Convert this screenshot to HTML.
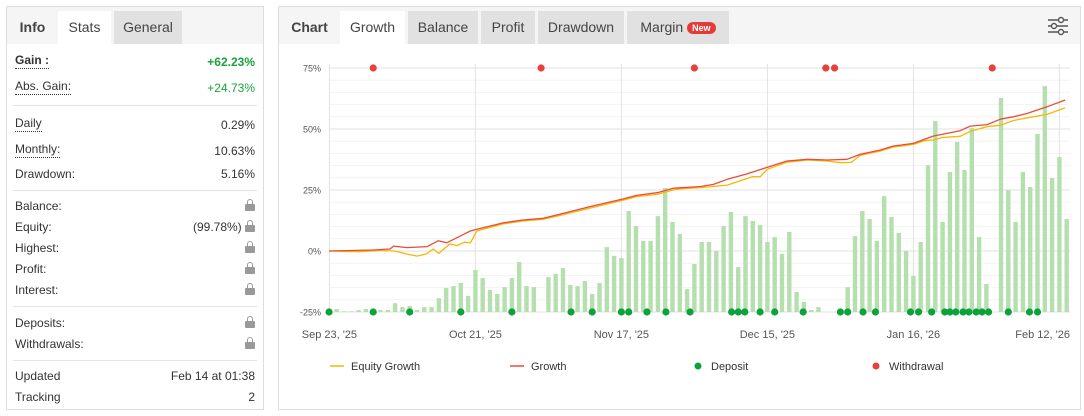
<!DOCTYPE html>
<html><head><meta charset="utf-8">
<style>
*{box-sizing:border-box;margin:0;padding:0}
body{width:1084px;height:416px;background:#fff;font-family:"Liberation Sans",sans-serif;font-size:12px;color:#333;position:relative;overflow:hidden}
.panel{position:absolute;border:1px solid #ddd;background:#fff}
.hdr{position:absolute;left:0;top:0;right:0;height:37px;background:#f5f5f5}
.tab{position:absolute;top:4px;height:33px;line-height:33px;text-align:center;font-size:14px;color:#444;background:#e1e1e1}
.tab.sel{background:#fff}
.tab.plain{background:transparent}
.row{position:absolute;left:8px;right:8px;height:20px;line-height:20px}
.row .k{position:absolute;left:0}
.row .k.u{border-bottom:1px dotted #333;line-height:16px}
.row .v{position:absolute;right:0}
.g{color:#1aa33c}
.sep{position:absolute;left:6px;right:6px;height:1px;background:#e4e4e4}
.lock{display:inline-block;width:10px;height:12px;position:relative;vertical-align:-1px}
.lock:before{content:"";position:absolute;left:2px;top:0;width:6px;height:6px;border:1.5px solid #999;border-bottom:none;border-radius:3px 3px 0 0;box-sizing:border-box}
.lock:after{content:"";position:absolute;left:0;top:5px;width:10px;height:7px;background:#999;border-radius:1px}
</style></head><body>
<div class="panel" style="left:6px;top:6px;width:258px;height:404px">
  <div class="hdr"></div>
  <div class="tab plain" style="left:0;width:51px;font-weight:bold">Info</div>
  <div class="tab sel" style="left:51px;width:53px">Stats</div>
  <div class="tab" style="left:107px;width:68px">General</div>
  <div class="row" style="top:45px"><span class="k u" style="font-weight:bold">Gain :</span><span class="v g" style="font-weight:bold">+62.23%</span></div>
  <div class="row" style="top:71px"><span class="k u">Abs. Gain:</span><span class="v g">+24.73%</span></div>
  <div class="sep" style="top:98px"></div>
  <div class="row" style="top:108px"><span class="k u">Daily</span><span class="v">0.29%</span></div>
  <div class="row" style="top:134px"><span class="k u">Monthly:</span><span class="v">10.63%</span></div>
  <div class="row" style="top:157px"><span class="k">Drawdown:</span><span class="v">5.16%</span></div>
  <div class="sep" style="top:183px"></div>
  <div class="row" style="top:189px"><span class="k">Balance:</span><span class="v"><i class="lock"></i></span></div>
  <div class="row" style="top:210px"><span class="k">Equity:</span><span class="v">(99.78%) <i class="lock"></i></span></div>
  <div class="row" style="top:231px"><span class="k">Highest:</span><span class="v"><i class="lock"></i></span></div>
  <div class="row" style="top:252px"><span class="k">Profit:</span><span class="v"><i class="lock"></i></span></div>
  <div class="row" style="top:273px"><span class="k">Interest:</span><span class="v"><i class="lock"></i></span></div>
  <div class="sep" style="top:299px"></div>
  <div class="row" style="top:306px"><span class="k">Deposits:</span><span class="v"><i class="lock"></i></span></div>
  <div class="row" style="top:327px"><span class="k">Withdrawals:</span><span class="v"><i class="lock"></i></span></div>
  <div class="sep" style="top:353px"></div>
  <div class="row" style="top:359px"><span class="k">Updated</span><span class="v">Feb 14 at 01:38</span></div>
  <div class="row" style="top:380px"><span class="k">Tracking</span><span class="v">2</span></div>
</div>

<div class="panel" style="left:278px;top:6px;width:803px;height:404px">
  <div class="hdr"></div>
  <div class="tab plain" style="left:0;width:61px;font-weight:bold">Chart</div>
  <div class="tab sel" style="left:61px;width:65px">Growth</div>
  <div class="tab" style="left:129px;width:70px">Balance</div>
  <div class="tab" style="left:202px;width:54px">Profit</div>
  <div class="tab" style="left:259px;width:86px">Drawdown</div>
  <div class="tab" style="left:348px;width:102px">Margin <span style="display:inline-block;background:#e53a3a;color:#fff;font-size:9px;font-weight:bold;line-height:12px;padding:0 5px;border-radius:7px;vertical-align:1px">New</span></div>
  <svg style="position:absolute;left:768px;top:9px" width="22" height="20" viewBox="0 0 22 20">
    <g stroke="#555" stroke-width="1.4" fill="#fff"><line x1="1" y1="4" x2="21" y2="4"/><line x1="1" y1="10" x2="21" y2="10"/><line x1="1" y1="16" x2="21" y2="16"/><circle cx="14" cy="4" r="2.5"/><circle cx="7" cy="10" r="2.5"/><circle cx="14" cy="16" r="2.5"/></g>
  </svg>
</div>

<svg id="chart" style="position:absolute;left:0;top:0" width="1084" height="416"></svg>

<script>
const yTicks=[75,50,25,0,-25];
const xTickIdx=[-1,19,39,59,79,99];
const xTickLabels=["Sep 23, '25","Oct 21, '25","Nov 17, '25","Dec 15, '25","Jan 16, '26","Feb 12, '26"];
const barValues=[-23.8,-24.7,-24.7,-24.2,-23.8,-23.9,-24.2,-24.2,-21.4,-23,-22.5,-24.2,-23,-23,-19.3,-15.2,-14.4,-13.1,-18.4,-7.8,-11.1,-16,-17.6,-14.8,-11.1,-4.5,-14.4,-14.8,null,-10.7,-9.4,-7,-13.9,-14.4,-12.3,-17.6,-13.1,1.6,-2,-2.9,16.4,10.2,4.1,4.1,14.3,25.8,11.9,7,
-15.6,-5.3,3.7,3.7,0,10.2,16,-6.6,14.3,12.3,10.7,3.7,5.7,-1.2,7.8,-16.8,-20.9,-24.2,-23,null,null,null,-14.8,6.1,16.4,13.1,4.1,22.5,13.9,7.4,0,-10.2,3.7,35.2,53.3,11.9,32.4,44.7,33.2,50.4,5.7,-13.5,null,62.7,25,11.9,32.4,26.2,48,67.6,29.9,38.5,13.1];
const growthIdx=[-1.05,5,7.3,7.8,9.6,12.4,13.9,15.1,17.2,18.3,19.2,22.8,25.5,28.3,30.2,34.7,39.2,41.1,43.9,46.1,47,49.8,51.6,53.5,56.2,59,61.7,64.5,67.2,69.9,71.7,74.5,76.2,79,81.7,85.4,86.8,89.1,90.9,92.7,94.6,97.3,99.8];
const growthVals=[0,0.4,0.8,2,1.4,1.8,4.2,3.4,6.5,8.2,8.9,11.5,12.7,13.4,14.8,18.2,21.3,22.8,23.9,25.7,25.9,26.4,27.3,29.4,31.6,34.3,36.9,37.6,37.3,37.6,39.6,41.4,43,44.1,47.1,49.3,51.2,51.8,54,55,56.4,59.1,61.9];
const equityIdx=[-1.05,3,6,8,9.5,11,12.3,13.2,14,15.5,16.5,17.5,18.3,19.2,22.8,25.5,28.3,30.2,34.7,39.2,41.1,43.9,46.1,47,49.8,53.5,55.5,57,58,59,61.7,64.5,67.2,69,70.5,71.7,74.5,76.2,79,80.5,81.7,83,85.4,86.8,89.1,90.9,92.7,94.6,97.3,99.8];
const equityVals=[0,-0.3,0.2,0,-1.2,-2.1,-1.2,0.8,-1,2.9,2.2,3.6,3.3,8.2,11.1,12.3,13,14.3,17.6,20.8,22.3,23.2,25,25.5,26,27,29,30.5,30.4,33.5,36.4,37.3,36.9,36.2,36.3,39.2,41,42.6,43.7,45.2,45.5,46.5,47,49,51,51.5,53.5,54.6,56,58.7,61.6];
const depositIdx=[-1.05,5,10,17,24,32.1,35,39,40,42.5,45.1,48.4,54.1,55,55.9,58,60,63.9,69,70,72.1,73.8,78.6,79.7,81.5,83.3,84,84.8,85.8,86.6,87.6,88.4,89.3,92,94.9,96];
const withdrawalIdx=[5,28,49,67,68.2,89.8];

const svg=document.getElementById('chart');
const NS='http://www.w3.org/2000/svg';
const X0=336.7,DX=7.3,Y0=251,PX=61/25;
function xs(i){return X0+DX*i;}
function ys(v){return Y0-v*PX;}
function mk(tag,attrs,parent){const e=document.createElementNS(NS,tag);for(const k in attrs)e.setAttribute(k,attrs[k]);(parent||svg).appendChild(e);return e;}
const L=329,R=1070;
for(let v=-25;v<=75;v+=5){
  const l=mk('line',{x1:L,x2:R,y1:ys(v),y2:ys(v),stroke:v%25===0?'#e2e2e2':'#f3f3f3','stroke-width':1});
  
  
}
yTicks.forEach(v=>{
  const t=mk('text',{x:321,y:ys(v)+3.5,'text-anchor':'end','font-size':9,fill:'#555','font-family':'Liberation Sans, sans-serif'});
  t.textContent=v+'%';
  
  
});
xTickIdx.forEach((i,k)=>{
  const l=mk('line',{x1:xs(i),x2:xs(i),y1:ys(75)-4,y2:ys(-25),stroke:'#e2e2e2','stroke-width':1});
  
  
  const last=k===xTickIdx.length-1;
  const t=mk('text',{x:last?1070:xs(i),y:338,'text-anchor':last?'end':'middle','font-size':11,fill:'#555','font-family':'Liberation Sans, sans-serif'});
  t.textContent=xTickLabels[k];
  
  
});
barValues.forEach((v,i)=>{
  if(v===null)return;
  const b=mk('rect',{x:xs(i)-2.2,y:ys(v),width:4.4,height:Math.max(0.5,ys(-25)-ys(v)),fill:'#b5dfae'});
  
  
});
function line(idx,vals,color,name,w){
  const d=idx.map((i,k)=>(k?'L':'M')+xs(i).toFixed(1)+','+ys(vals[k]).toFixed(1)).join('');
  const p=mk('path',{d:d,fill:'none',stroke:color,'stroke-width':w,'stroke-linejoin':'round'});
  
  
}
line(equityIdx,equityVals,'#f5b800','equity-growth-line',1.3);
line(growthIdx,growthVals,'#ec4a3a','growth-line',1.3);
depositIdx.forEach(i=>{
  const c=mk('circle',{cx:xs(i),cy:ys(-25),r:3.6,fill:'#0aa33a'});
  
  
});
withdrawalIdx.forEach(i=>{
  const c=mk('circle',{cx:xs(i),cy:ys(75),r:3.6,fill:'#e8403a'});
  
  
});
const leg=[['line','#f5b800','Equity Growth',330],['line','#ec4a3a','Growth',510],['dot','#0aa33a','Deposit',695],['dot','#e8403a','Withdrawal',873]];
leg.forEach(([t,c,label,x])=>{
  const g=mk('g',{});
  
  
  if(t==='line')mk('line',{x1:x,x2:x+14,y1:366,y2:366,stroke:c,'stroke-width':1.5},g);
  else mk('circle',{cx:x+3,cy:366,r:3.5,fill:c},g);
  const tx=mk('text',{x:x+(t==='line'?21:16),y:370,'font-size':11,fill:'#333','font-family':'Liberation Sans, sans-serif'},g);
  tx.textContent=label;
});
</script>
</body></html>
